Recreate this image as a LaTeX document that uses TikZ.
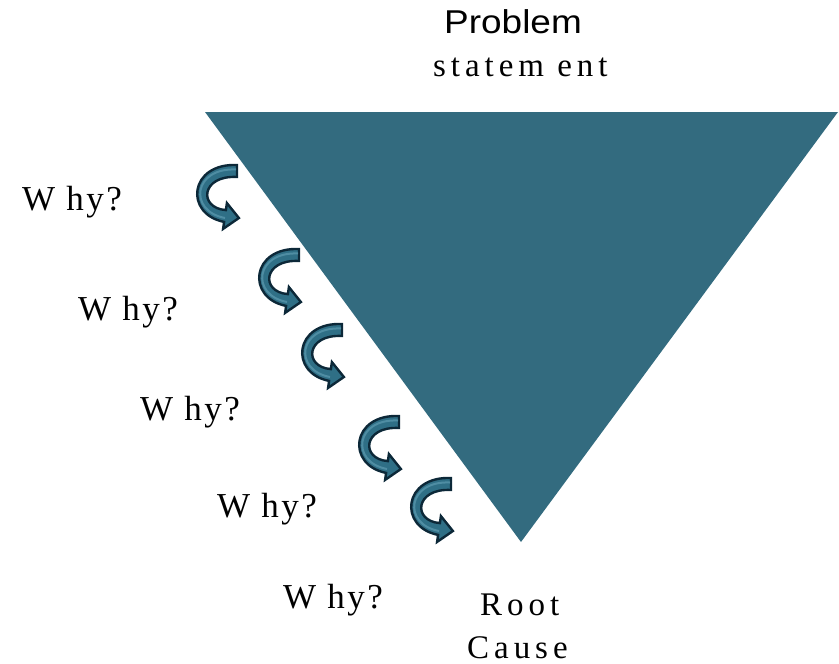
\documentclass[tikz,border=0pt]{standalone}
\usepackage{fontspec}
\setmainfont{Liberation Serif}
\newfontfamily\probfont{Liberation Sans}
\newfontfamily\spacedfont[LetterSpace=15]{Liberation Serif}
\newfontfamily\whyfont[LetterSpace=7]{Liberation Serif}
\definecolor{tri}{HTML}{336B7F}
\definecolor{arrfill}{HTML}{2F6F86}
\definecolor{arrlight}{HTML}{4F8DA3}
\definecolor{arrline}{HTML}{0C2838}
\tikzset{
  lbl/.style={inner sep=0pt, anchor=base west, text=black},
  whystyle/.style={lbl, font=\whyfont\fontsize{35}{40}\selectfont},
  spacedstyle/.style={lbl, font=\spacedfont\fontsize{33}{36}\selectfont},
  whyarrow/.pic={
    \path[fill=arrfill, draw=arrline, line width=2.4pt, line join=miter]
      (0,-6) .. controls (-48,-8) and (-53,43) .. (-12.9,50.9)
      -- (-13.9,57.9) -- (1.9,47) -- (-10.1,32.1) -- (-11.1,39.1)
      .. controls (-39,37) and (-36,4) .. (0,6) -- cycle;
    \draw[arrlight, line width=2pt] (-1,-1.5) .. controls (-44,-3.5) and (-49,40) .. (-12,47);
  }
}
\begin{document}
\begin{tikzpicture}[x=1pt,y=-1pt]
\useasboundingbox (0,0) rectangle (839,664);
\fill[tri] (205,112) coordinate (tl) -- (838,112) coordinate (tr) -- (521,542) coordinate (bt) -- cycle;
\node[lbl, font=\probfont\fontsize{33}{36}\selectfont] (prob) at (444,33) {\scalebox{1.12}[1]{Problem}};
\node[spacedstyle] (stmt) at (433,76) {statem ent};
\node[whystyle] (why1) at (22,210) {W hy?};
\node[whystyle] (why2) at (78,320) {W hy?};
\node[whystyle] (why3) at (140,420) {W hy?};
\node[whystyle] (why4) at (217,517) {W hy?};
\node[whystyle] (why5) at (283,608) {W hy?};
\node[spacedstyle] (root) at (480,615) {Root};
\node[spacedstyle] (cause) at (467,658) {Cause};
\pic at (237,171) {whyarrow};
\pic at (299,255) {whyarrow};
\pic at (342,330) {whyarrow};
\pic at (399,422) {whyarrow};
\pic at (451,484) {whyarrow};
\end{tikzpicture}
\end{document}
